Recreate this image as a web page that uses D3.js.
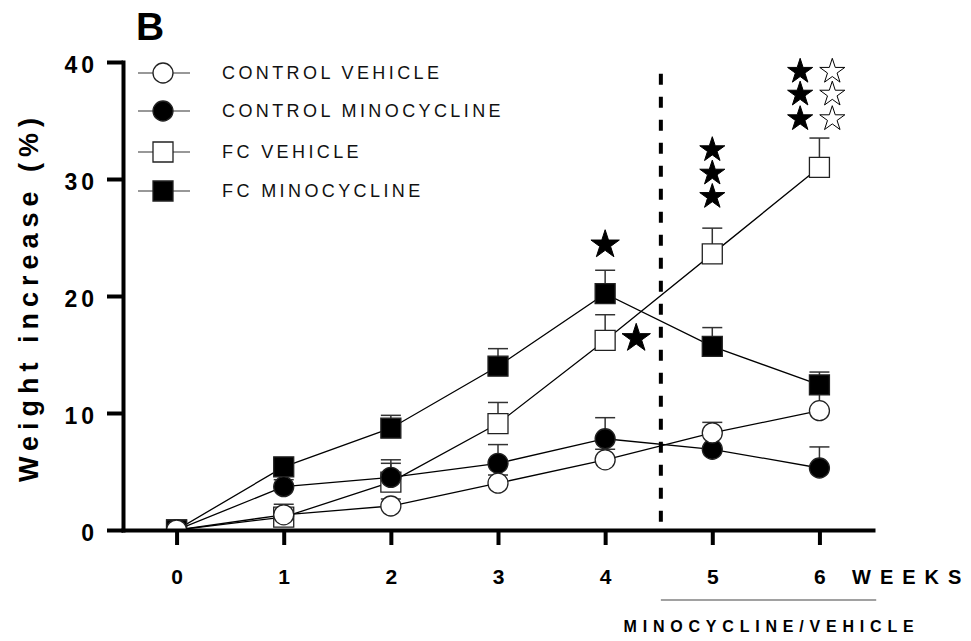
<!DOCTYPE html>
<html>
<head>
<meta charset="utf-8">
<script src="https://cdn.jsdelivr.net/npm/d3@7"></script>
<style>
body { margin: 0; background: #fff; }
svg { font-family: "Liberation Sans", Arial, sans-serif; }
</style>
</head>
<body>
<div id="graph"></div>
<script>
const width = 971,
    height = 641;

// data (mean, upper error bar)
const weeks = [0, 1, 2, 3, 4, 5, 6];
const yTicks = [0, 10, 20, 30, 40];
const seriesNames = ["CONTROL VEHICLE", "CONTROL MINOCYCLINE", "FC VEHICLE", "FC MINOCYCLINE"];
const controlVehicle = [0, 1.3, 2.05, 4.0, 6.0, 8.3, 10.2];
const controlVehicleErr = [0, 0.5, 0.6, 0.7, 0.9, 0.9, 1.5];
const controlMino = [0, 3.7, 4.5, 5.7, 7.8, 6.9, 5.3];
const controlMinoErr = [0, 0.6, 1.5, 1.6, 1.8, 1.5, 1.8];
const fcVehicle = [0, 1.1, 4.1, 9.1, 16.2, 23.6, 31.0];
const fcVehicleErr = [0, 1.1, 1.6, 1.8, 2.2, 2.2, 2.5];
const fcMino = [0, 5.4, 8.7, 14.0, 20.2, 15.7, 12.4];
const fcMinoErr = [0, 0.6, 1.1, 1.5, 2.0, 1.6, 1.1];

// significance stars
const starWeeks = [4, 4.29, 5, 5, 5, 5.82, 5.82, 5.82, 6.12, 6.12, 6.12];
const starValues = [24.5, 16.5, 32.6, 30.6, 28.6, 39.3, 37.35, 35.25, 39.3, 37.35, 35.25];
const starFilled = [true, true, true, true, true, true, true, true, false, false, false];

const dividerWeek = 4.52; // start of minocycline/vehicle

const x = d3.scaleLinear().domain([-0.5, 6.5]).range([123, 873]);
const y = d3.scaleLinear().domain([0, 40]).range([530, 62]);

const series = [
    {name: seriesNames[0], values: controlVehicle, err: controlVehicleErr, shape: d3.symbolCircle, fill: "#fff"},
    {name: seriesNames[1], values: controlMino, err: controlMinoErr, shape: d3.symbolCircle, fill: "#000"},
    {name: seriesNames[2], values: fcVehicle, err: fcVehicleErr, shape: d3.symbolSquare, fill: "#fff"},
    {name: seriesNames[3], values: fcMino, err: fcMinoErr, shape: d3.symbolSquare, fill: "#000"}
];
const drawOrder = [2, 3, 1, 0];

const marker = function (s) {
    return d3.symbol().type(s.shape).size(s.shape === d3.symbolCircle ? 314 : 400)();
};

const svg = d3.select("#graph")
    .append("svg")
    .attr("width", width)
    .attr("height", height);

svg.append("defs").append("clipPath")
    .attr("id", "plot")
    .append("rect")
    .attr("x", 0).attr("y", 0)
    .attr("width", width).attr("height", y(0) - 1);

const plot = svg.append("g").attr("clip-path", "url(#plot)");

// error bars (upper only)
series.forEach(function (s) {
    const g = plot.append("g").attr("stroke", "#333").attr("stroke-width", 1.5);
    weeks.forEach(function (w, i) {
        if (!s.err[i]) return;
        g.append("line")
            .attr("x1", x(w)).attr("x2", x(w))
            .attr("y1", y(s.values[i])).attr("y2", y(s.values[i] + s.err[i]));
        g.append("line")
            .attr("x1", x(w) - 10).attr("x2", x(w) + 10)
            .attr("y1", y(s.values[i] + s.err[i])).attr("y2", y(s.values[i] + s.err[i]));
    });
});

const line = d3.line()
    .x(function (d, i) { return x(weeks[i]); })
    .y(function (d) { return y(d); });

series.forEach(function (s) {
    plot.append("path")
        .attr("d", line(s.values))
        .attr("fill", "none")
        .attr("stroke", "#000")
        .attr("stroke-width", 1.3);
});

drawOrder.forEach(function (k) {
    const s = series[k];
    plot.selectAll(null)
        .data(s.values)
        .enter()
        .append("path")
        .attr("d", marker(s))
        .attr("transform", function (d, i) { return "translate(" + x(weeks[i]) + "," + y(d) + ")"; })
        .attr("fill", s.fill)
        .attr("stroke", "#222")
        .attr("stroke-width", 1.3);
});

// dashed divider
svg.append("line")
    .attr("x1", x(dividerWeek)).attr("x2", x(dividerWeek))
    .attr("y1", y(39)).attr("y2", y(0))
    .attr("stroke", "#000")
    .attr("stroke-width", 4)
    .attr("stroke-dasharray", "11,12");

// stars
svg.selectAll(".star")
    .data(starWeeks)
    .enter()
    .append("path")
    .attr("class", "star")
    .attr("d", function (d, i) { return d3.symbol().type(d3.symbolStar).size(i < 2 ? 250 : 195)(); })
    .attr("transform", function (d, i) { return "translate(" + x(d) + "," + (y(starValues[i]) + 1.3) + ")"; })
    .attr("fill", function (d, i) { return starFilled[i] ? "#000" : "#fff"; })
    .attr("stroke", "#000")
    .attr("stroke-width", 1);

// axes
const xAxis = svg.append("g")
    .attr("transform", "translate(0," + y(0) + ")")
    .call(d3.axisBottom(x).tickValues(weeks).tickFormat(d3.format("d"))
        .tickSize(15).tickSizeOuter(0).tickPadding(24));

const yAxis = svg.append("g")
    .attr("transform", "translate(" + x(-0.5) + ",0)")
    .call(d3.axisLeft(y).tickValues(yTicks).tickSize(16).tickSizeOuter(0).tickPadding(9));

[xAxis, yAxis].forEach(function (a) {
    a.select(".domain").attr("stroke", "#000").attr("stroke-width", 4).attr("stroke-linecap", "square");
    a.selectAll(".tick line").attr("stroke", "#000").attr("stroke-width", 4);
    a.selectAll(".tick text")
        .attr("fill", "#000")
        .style("font-family", "'Liberation Sans', Arial, sans-serif")
        .style("font-weight", "bold");
});
xAxis.selectAll(".tick text").style("font-size", "21px");
yAxis.selectAll(".tick text").style("font-size", "23px").style("letter-spacing", "4px").attr("dy", "0.45em");

svg.append("text")
    .attr("x", 852).attr("y", 584)
    .style("font-size", "20px").style("font-weight", "bold").style("letter-spacing", "9px")
    .text("WEEKS");

svg.append("line")
    .attr("x1", x(dividerWeek)).attr("x2", x(6.53))
    .attr("y1", 600).attr("y2", 600)
    .attr("stroke", "#444").attr("stroke-width", 1.2);

svg.append("text")
    .attr("x", (x(dividerWeek) + x(6.53)) / 2 + 3).attr("y", 632)
    .attr("text-anchor", "middle")
    .style("font-size", "16px").style("font-weight", "bold").style("letter-spacing", "5.8px")
    .text("MINOCYCLINE/VEHICLE");

svg.append("text")
    .attr("transform", "translate(38," + 297 + ") rotate(-90)")
    .attr("text-anchor", "middle")
    .style("font-size", "27px").style("font-weight", "bold").style("letter-spacing", "6px")
    .text("Weight increase (%)");

svg.append("text")
    .attr("x", 136).attr("y", 40)
    .style("font-size", "39px").style("font-weight", "bold")
    .text("B");

// legend
const legend = svg.append("g");
const legendY = [73, 111, 152, 191];
series.forEach(function (s, i) {
    const row = legend.append("g").attr("transform", "translate(163," + legendY[i] + ")");
    row.append("line")
        .attr("x1", -25).attr("x2", 27)
        .attr("stroke", "#333").attr("stroke-width", 1.2);
    row.append("path")
        .attr("d", marker(s))
        .attr("fill", s.fill)
        .attr("stroke", "#222")
        .attr("stroke-width", 1.3);
    row.append("text")
        .attr("x", 59).attr("dy", "0.36em")
        .style("font-size", "18px").style("letter-spacing", "3.4px")
        .attr("fill", "#111")
        .text(s.name);
});
</script>
</body>
</html>
